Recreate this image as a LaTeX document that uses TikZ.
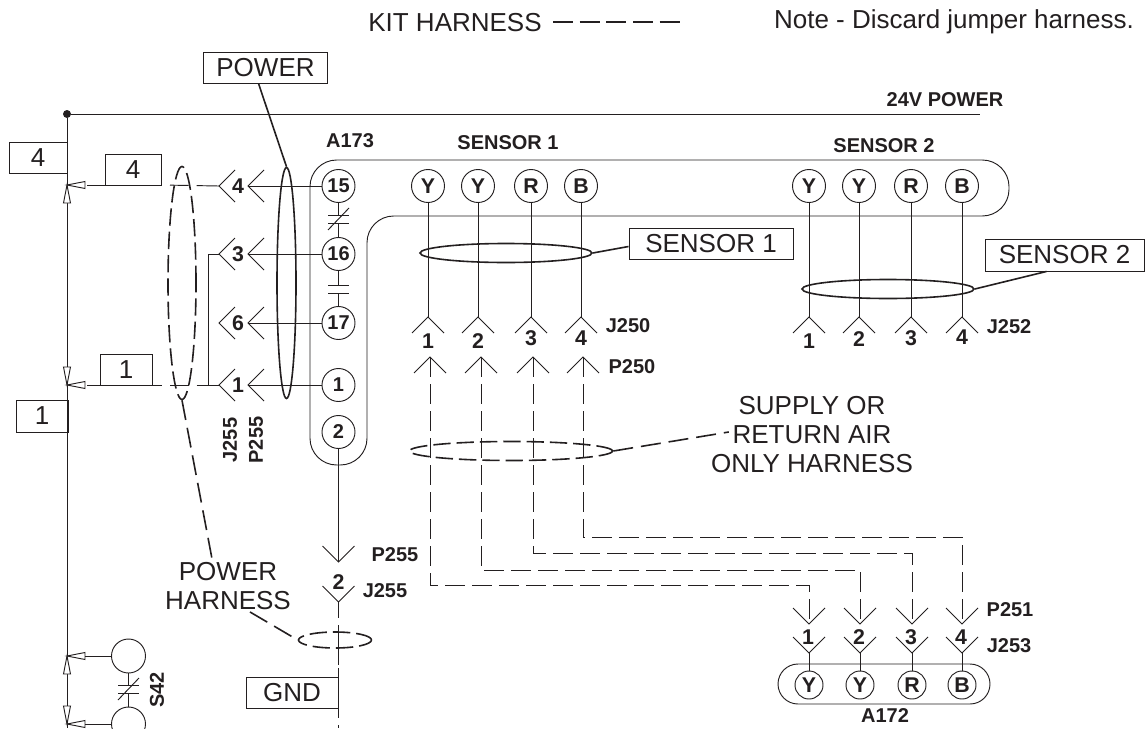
\documentclass[tikz,border=0pt]{standalone}
\usepackage{fontspec}
\setmainfont{Liberation Sans}
\usetikzlibrary{shapes}
\usetikzlibrary{calc}
\definecolor{ink}{HTML}{231F20}
\def\unit{0.75pt}
\tikzset{
  chev/.pic={
    \draw[wire] (-16,16) -- (0,0) -- (16,16);
  },
  opentip/.pic={
    \draw[wire,fill=white] (0,0) -- (18,-3.5) -- (18,3.5) -- cycle;
  },
  plates/.pic={
    \draw[wire] (-10.5,-4) -- (10.5,-4);
    \draw[wire] (-10.5,4) -- (10.5,4);
  },
  slashplates/.pic={
    \draw[wire] (-10.5,-4) -- (10.5,-4);
    \draw[wire] (-10.5,4) -- (10.5,4);
    \draw[wire] (-10.5,11) -- (10.5,-11);
  },
}
\begin{document}
\begin{tikzpicture}[
  x=\unit,y=-\unit,
  wire/.style={
    draw=ink,line width=0.7pt
  },
  kit/.style={
    wire,dash pattern=on 15pt off 5.25pt
  },
  harn/.style={
    ellipse,
    draw=ink,
    line width=1.2pt,
    inner sep=0pt},
  harndash/.style={
    harn,
    dash pattern=on 13pt off 4.5pt},
  leader/.style={
    draw=ink,line width=1.2pt
  },
  leaderdash/.style={
    leader,dash pattern=on 15pt off 6pt
  },
  big/.style={
    text=ink,
    font=\fontsize{19.5}{21.75}\selectfont,
    align=center,
    inner sep=0pt},
  tag/.style={
    text=ink,
    font=\fontsize{15}{18}\selectfont\bfseries,
    inner sep=0pt},
  num/.style={
    tag,
    font=\fontsize{16}{18}\selectfont\bfseries},
  box/.style 2 args={
    big,
    rectangle,
    wire,
    minimum width=#1*\unit,
    minimum height=#2*\unit},
  term/.style={
    circle,
    wire,
    fill=white,
    tag,
    minimum size=#1*\unit},
  term/.default=33,
  lettr/.style={
    term=#1,
    font=\fontsize{16}{18}\selectfont\bfseries},
  lettr/.default=33,
]

  \useasboundingbox (0,0) rectangle (1145,728);
  \clip (0,0) rectangle (1145,728);

  \def\lvlbus{114}%
  \def\lvlpins{186}%

    % Legend and note
  \node[big] (kit_txt) at (455,23) {KIT HARNESS};
  \coordinate (kit_a) at (553,22);
  \coordinate (kit_b) at (680,22);
  \draw[leader,dash pattern=on 15pt off 5pt] (kit_a) -- (kit_b);
  \node[big] (note_txt) at (954,22) {Note - Discard jumper harness.};

    % Bus
  \node[circle,fill=ink,inner sep=0pt,minimum size=8*\unit] (top) at (67,\lvlbus) {};
  \coordinate (bus_end) at (980,\lvlbus);
  \coordinate (bus_bot) at (67,728);
  \draw[wire] (top) -- (bus_end);
  \draw[wire] (top) -- (bus_bot);
  \node[tag] at (945,100) {24V POWER};

    % Board outline
  \draw[wire,rounded corners=20pt] (310,160) -- (1009,160) -- (1009,216) -- (367,216)
      -- (367,465) -- (310,465) -- cycle;
  \node[tag] (a173) at (350,141) {A173};
  \node[tag] (sensor1_txt) at (508,143) {SENSOR 1};
  \node[tag] (sensor2_txt) at (884,146) {SENSOR 2};

    % Left hand terminals
  \foreach \step/\row in {15/186,16/254,17/323,1/385,2/432} {
    \node[term] (c\step) at (338.5,\row) {\step};
  }
  \foreach \step/\row/\num in {15/186/4,16/254/3,17/323/6,1/385/1} {
    \coordinate (j255_\step) at (219,\row);
    \coordinate (p255_\step) at (248,\row);
    \pic[rotate=90] at (j255_\step) {chev};
    \pic[rotate=90] at (p255_\step) {chev};
    \node[num] (n\step) at (238,\row) {\num};
    \draw[wire] (c\step) -- (p255_\step);
  }

    % Contacts between terminals
  \coordinate (k1a) at (338.5,215);
  \coordinate (k1b) at (338.5,223);
  \pic at (338.5,219) {slashplates};
  \draw[wire] (c15) -- (k1a);
  \draw[wire] (k1b) -- (c16);
  \coordinate (k2a) at (338.5,285);
  \coordinate (k2b) at (338.5,293);
  \pic at (338.5,289) {plates};
  \draw[wire] (c16) -- (k2a);
  \draw[wire] (k2b) -- (c17);

    % Junctions on the bus
  \coordinate (bus4) at (67,185);
  \coordinate (bus1) at (67,385);
  \coordinate (bus_a) at (67,656);
  \coordinate (bus_b) at (67,724);
  \pic at (bus4) {opentip};
  \pic[rotate=-90] at (bus4) {opentip};
  \pic at (bus1) {opentip};
  \pic[rotate=90] at (bus1) {opentip};
  \pic at (bus_a) {opentip};
  \pic[rotate=-90] at (bus_a) {opentip};
  \pic at (bus_b) {opentip};
  \pic[rotate=90] at (bus_b) {opentip};

  \node[box={58}{31}] (box4a) at (38,157.5) {4};
  \node[box={56}{31}] (box4b) at (133,169.5) {4};
  \node[box={52}{31}] (box1a) at (126,369.5) {1};
  \node[box={52}{32}] (box1b) at (42,416) {1};

  \coordinate (row4_a) at (87,185);
  \coordinate (row4_b) at (162,185);
  \coordinate (row1_a) at (87,385);
  \coordinate (row1_b) at (162,385);
  \coordinate (tee_top) at (208,254);
  \coordinate (tee_bot) at (208,385);
  \draw[wire] (row4_a) -- (row4_b);
  \draw[wire] (row1_a) -- (row1_b);
  \draw[wire,dash pattern=on 0pt off 6pt on 14pt off 6pt on 16pt] (row4_b) -- (j255_15);
  \draw[wire,dash pattern=on 0pt off 6pt on 14pt off 6pt on 16pt] (row1_b) -- (j255_1);
  \draw[wire] (j255_16) -- (tee_top) -- (tee_bot);

    % Power harness marks
  \node[box={124}{31}] (power_box) at (265.5,67.5) {POWER};
  \node[harn,minimum width=19*\unit,minimum height=231*\unit] (power_h) at (286.5,283) {};
  \draw[leader] ($(power_box.south)+(-7,0)$) -- (power_h.north);
  \node[harndash,minimum width=28*\unit,minimum height=233*\unit] (kit_h) at (182,283) {};
  \node[big] (ph_txt) at (228,586) {POWER\\HARNESS};
  \draw[leaderdash] (kit_h.south) -- ($(ph_txt.north)+(-15,2)$);
  \node[harndash,minimum width=73*\unit,minimum height=16*\unit] (gnd_h) at (335,640) {};
  \draw[leaderdash] ($(ph_txt.south)+(22,2)$) -- (gnd_h.west);
  \node[tag,rotate=90] (j255_txt) at (230,440) {J255};
  \node[tag,rotate=90] (p255_txt) at (256,440) {P255};

    % Ground lead
  \coordinate (p255_2) at (338.5,562);
  \coordinate (j255_2) at (338.5,602);
  \coordinate (gnd_end) at (338.5,728);
  \pic[rotate=180] at (p255_2) {chev};
  \pic[rotate=180] at (j255_2) {chev};
  \draw[wire] (c2) -- (p255_2);
  \draw[wire,dash pattern=on 12pt off 5.25pt on 30pt off 2.25pt on 37.5pt off 5.25pt on 20pt] (j255_2) -- (gnd_end);
  \node[num] (n2) at (338.5,582) {2};
  \node[tag] at (395,555) {P255};
  \node[tag] at (385,591) {J255};
  \node[box={92}{31}] (gnd_box) at (292,692.5) {GND};

    % S42
  \node[term=34] (s42a) at (128.5,656) {};
  \node[term=34] (s42b) at (128.5,724) {};
  \coordinate (s42c) at (128.5,685);
  \coordinate (s42d) at (128.5,693);
  \pic at (128.5,689) {slashplates};
  \draw[wire] (s42a) -- (s42c);
  \draw[wire] (s42d) -- (s42b);
  \coordinate (s42a_tip) at (85,656);
  \coordinate (s42b_tip) at (85,724);
  \draw[wire] (s42a_tip) -- (s42a);
  \draw[wire] (s42b_tip) -- (s42b);
  \node[tag,rotate=90] (s42_txt) at (157,690) {S42};

    % Sensor 1 terminals and J250/P250
  \foreach \step/\col/\xj/\xp/\ynum in {1/Y/428/430/341,2/Y/478/481/341,3/R/531/533/338,4/B/581/583/338} {
    \node[lettr] (sa_\step) at (\xj,\lvlpins) {\col};
    \coordinate (j250_\step) at (\xj,317);
    \coordinate (p250_\step) at (\xp,357);
    \pic at (j250_\step) {chev};
    \pic at (p250_\step) {chev};
    \node[num] at (\xj,\ynum) {\step};
    \draw[wire] (sa_\step) -- (j250_\step);
  }
  \node[tag] at (628,326) {J250};
  \node[tag] at (632,367) {P250};
  \node[harn,minimum width=172*\unit,minimum height=19*\unit] (sensor1_h) at (506,253) {};
  \node[box={164}{31}] (sensor1_box) at (711,243.5) {SENSOR 1};
  \draw[leader] (sensor1_h.east) -- ($(sensor1_box.west)+(0,3)$);

    % Sensor 2 terminals and J252
  \foreach \step/\col/\xj/\ynum in {1/Y/809/341,2/Y/859/339,3/R/911/338,4/B/962/337} {
    \node[lettr] (sb_\step) at (\xj,\lvlpins) {\col};
    \coordinate (j252_\step) at (\xj,317);
    \pic at (j252_\step) {chev};
    \node[num] at (\xj,\ynum) {\step};
    \draw[wire] (sb_\step) -- (j252_\step);
  }
  \node[tag] at (1009,327) {J252};
  \node[harn,minimum width=172*\unit,minimum height=19*\unit] (sensor2_h) at (888,289) {};
  \node[box={159}{32}] (sensor2_box) at (1064.5,255) {SENSOR 2};
  \draw[leader] (sensor2_h.east) -- ($(sensor2_box.south)+(-18,0)$);

    % A172 and P251/J253
  \node[rectangle,wire,rounded corners=15pt,minimum width=212*\unit,minimum height=40*\unit] (a172) at (884,684) {};
  \node[tag] (a172_txt) at (885,716) {A172};
  \foreach \step/\col/\xj/\yturn in {1/Y/809/585,2/Y/860/570,3/R/912/553,4/B/962/537} {
    \node[lettr=28] (ra_\step) at (\xj,685) {\col};
    \coordinate (p251_\step) at (\xj,624);
    \coordinate (j253_\step) at (\xj,653);
    \pic[rotate=180] at (p251_\step) {chev};
    \pic[rotate=180] at (j253_\step) {chev};
    \node[num] at (\xj-1,637) {\step};
    \draw[wire] (j253_\step) -- (ra_\step);
    \draw[kit] (p250_\step) -- (p250_\step |- 0,\yturn) -- (p251_\step |- 0,\yturn) -- (p251_\step);
  }
  \node[tag] at (1010,610) {P251};
  \node[tag] at (1009,646) {J253};

    % Return air harness
  \node[harndash,minimum width=203*\unit,minimum height=19*\unit] (air_h) at (511,451) {};
  \node[big] (air_txt) at (812,435) {SUPPLY OR\\RETURN AIR\\ONLY HARNESS};
  \draw[leaderdash] (air_h.east) -- ($(air_txt.west)+(18,-3)$);

\end{tikzpicture}
\end{document}
